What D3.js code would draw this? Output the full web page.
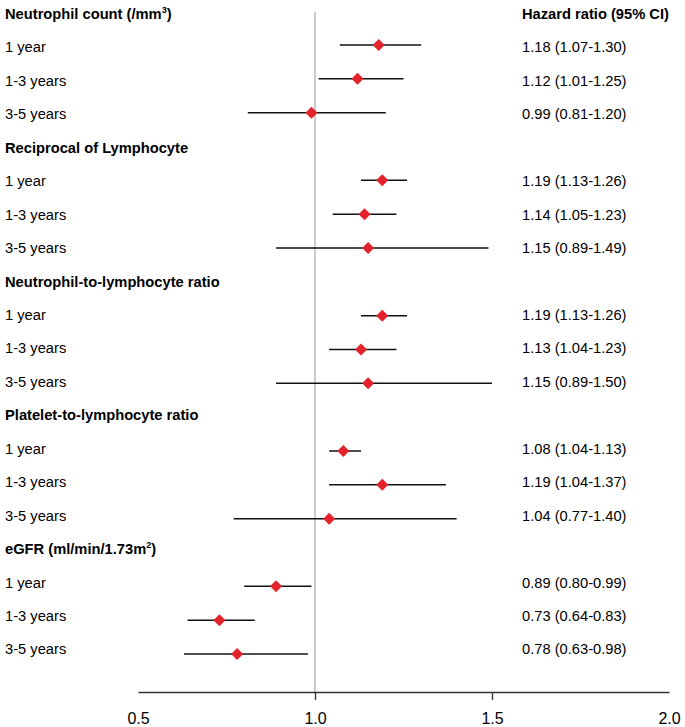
<!DOCTYPE html>
<html><head><meta charset="utf-8">
<script src="https://cdn.jsdelivr.net/npm/d3@7"></script>
<style>body{margin:0;background:#fff}svg{display:block}text{font-family:"Liberation Sans",Arial,sans-serif}</style>
</head><body><svg id="c" width="685" height="727"></svg>
<script>
const groups = ["Neutrophil count (/mm","Reciprocal of Lymphocyte","Neutrophil-to-lymphocyte ratio","Platelet-to-lymphocyte ratio","eGFR (ml/min/1.73m"];
const groupSup = ["3","","","","2"];
const groupSuffix = [")","","","",")"];
const periods = ["1 year","1-3 years","3-5 years"];
const hr    = [1.18,1.12,0.99, 1.19,1.14,1.15, 1.19,1.13,1.15, 1.08,1.19,1.04, 0.89,0.73,0.78];
const lower = [1.07,1.01,0.81, 1.13,1.05,0.89, 1.13,1.04,0.89, 1.04,1.04,0.77, 0.80,0.64,0.63];
const upper = [1.30,1.25,1.20, 1.26,1.23,1.49, 1.26,1.23,1.50, 1.13,1.37,1.40, 0.99,0.83,0.98];
const hrLabels = ["1.18 (1.07-1.30)","1.12 (1.01-1.25)","0.99 (0.81-1.20)","1.19 (1.13-1.26)","1.14 (1.05-1.23)","1.15 (0.89-1.49)","1.19 (1.13-1.26)","1.13 (1.04-1.23)","1.15 (0.89-1.50)","1.08 (1.04-1.13)","1.19 (1.04-1.37)","1.04 (0.77-1.40)","0.89 (0.80-0.99)","0.73 (0.64-0.83)","0.78 (0.63-0.98)"];
const xTicks = [0.5,1.0,1.5,2.0];

const svg = d3.select("#c");
const x = d3.scaleLinear().domain([0.5,2.0]).range([138,669]);
const yText = d3.scalePoint().domain(d3.range(20)).range([19,654.4]);   // text baselines
const yMark = d3.scalePoint().domain(d3.range(20)).range([11.2,654]);   // marker centres
const axisY = 692;
const fs = 14.7;

const rows = [];
let k = 0;
groups.forEach((g,gi)=>{
  rows.push({type:"h", gi, idx: gi*4});
  periods.forEach((p,pi)=>{
    rows.push({type:"r", label:p, idx: gi*4+1+pi, d:k});
    k++;
  });
});

svg.append("line").attr("x1",x(1)).attr("x2",x(1)).attr("y1",12).attr("y2",axisY)
  .attr("stroke","#a8a8a8").attr("stroke-width",1.2);

rows.filter(r=>r.type==="h").forEach(r=>{
  const t = svg.append("text").attr("x",5).attr("y",yText(r.idx)).attr("font-size",fs).attr("font-weight","bold").attr("fill","#000");
  t.append("tspan").text(groups[r.gi]);
  if(groupSup[r.gi]){
    t.append("tspan").attr("dy",-6).attr("font-size",9).text(groupSup[r.gi]);
    t.append("tspan").attr("dy",6).text(groupSuffix[r.gi]);
  }
});
svg.append("text").attr("x",522).attr("y",yText(0)).attr("font-size",fs).attr("font-weight","bold").text("Hazard ratio (95% CI)");

const dr = rows.filter(r=>r.type==="r");
svg.selectAll(".lab").data(dr).join("text").attr("x",5).attr("y",r=>yText(r.idx))
  .attr("font-size",fs).text(r=>r.label);
svg.selectAll(".ci").data(dr).join("line")
  .attr("x1",r=>x(lower[r.d])).attr("x2",r=>x(upper[r.d]))
  .attr("y1",r=>yMark(r.idx)).attr("y2",r=>yMark(r.idx)).attr("stroke","#111").attr("stroke-width",1.5);
const s = 6;
svg.selectAll(".pt").data(dr).join("path")
  .attr("d",r=>{const cx=x(hr[r.d]), cy=yMark(r.idx); return `M${cx},${cy-s}L${cx+s},${cy}L${cx},${cy+s}L${cx-s},${cy}Z`;})
  .attr("fill","#e3222b");
svg.selectAll(".hrl").data(dr).join("text").attr("x",522).attr("y",r=>yText(r.idx))
  .attr("font-size",fs).text(r=>hrLabels[r.d]);

const ax = svg.append("g").attr("transform",`translate(0,${axisY})`)
  .call(d3.axisBottom(x).tickValues(xTicks).tickFormat(d3.format(".1f")).tickSize(8).tickSizeOuter(0));
ax.select(".domain").attr("stroke","#333").attr("stroke-width",1.3);
ax.selectAll(".tick line").attr("stroke","#333").attr("stroke-width",1.3)
  .attr("display",d=> (d===0.5||d===2.0)?"none":null);
ax.selectAll(".tick text").attr("y",32).attr("dy",0).attr("font-size",16).attr("fill","#000")
  .attr("font-family","Liberation Sans, Arial, sans-serif");
</script></body></html>
